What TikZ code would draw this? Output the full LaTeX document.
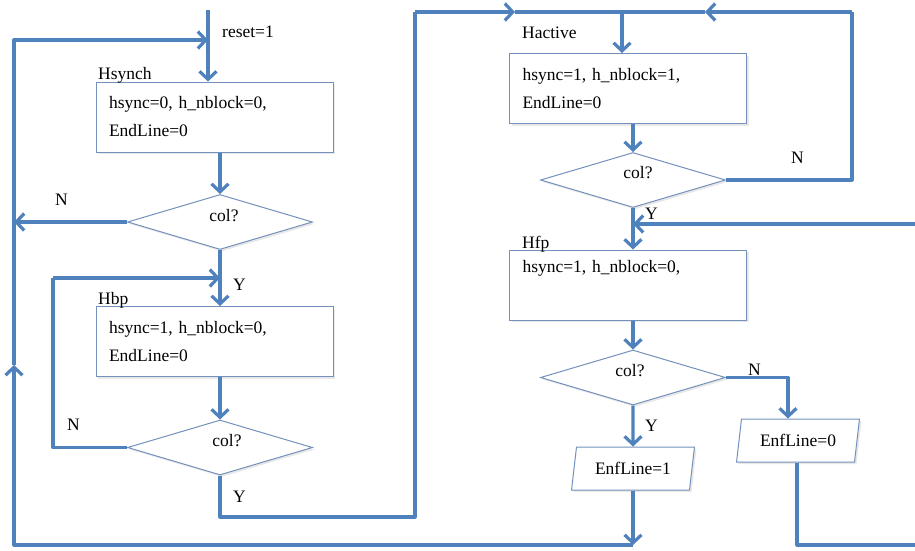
\documentclass[tikz,border=0pt]{standalone}
\usepackage{fontspec}
\setmainfont{Liberation Serif}
\usetikzlibrary{arrows.meta,shapes.geometric,shadows}

\definecolor{flow}{RGB}{79,129,189}
\definecolor{edge}{RGB}{115,145,188}

\tikzset{
  x=1pt, y=-1pt,
  txt/.style={inner sep=0pt, font=\fontsize{17.5}{28}\selectfont, text=black},
  conn/.style={draw=flow, line width=3.2pt, line join=round},
  arr/.style={conn, -{Straight Barb[length=8pt,width=17pt]}},
  shade/.style={drop shadow={opacity=0.18, shadow xshift=2pt, shadow yshift=-2pt}},
  statebox/.style={rectangle, draw=edge, line width=1pt, fill=white, shade,
    minimum width=237pt, minimum height=70pt, text width=211pt,
    inner xsep=13pt, inner ysep=0pt, align=left,
    font=\fontsize{17.5}{28}\selectfont, text=black},
  test/.style={diamond, draw=edge, line width=1pt, fill=white, shade,
    minimum width=185pt, minimum height=55pt, inner sep=1pt},
  outbox/.style={trapezium, trapezium left angle=78, trapezium right angle=102,
    trapezium stretches=true, draw=edge, line width=1pt, fill=white, shade,
    minimum width=124pt, minimum height=43pt, inner sep=2pt,
    font=\fontsize{17.5}{28}\selectfont, text=black}
}

\begin{document}
\begin{tikzpicture}
\useasboundingbox (0,0) rectangle (915,550);

% ---- states and tests ----
\node[statebox] (hsynch) at (214.5,117) {hsync=0, h\_nblock=0,\\EndLine=0};
\node[test] (d1) at (220,222) {};
\node[statebox] (hbp) at (214.5,341.5) {hsync=1, h\_nblock=0,\\EndLine=0};
\node[test] (d2) at (220,447.5) {};

\node[statebox] (hactive) at (628,88.5) {hsync=1, h\_nblock=1,\\EndLine=0};
\node[test] (d3) at (633,180) {};
\node[statebox] (hfp) at (628,285) {hsync=1, h\_nblock=0,\\\strut};
\node[test] (d4) at (633,377.5) {};

\node[outbox] (enf1) at (633,468.5) {EnfLine=1};
\node[outbox] (enf0) at (798,440.5) {EnfLine=0};

% ---- texts ----
\node[txt, anchor=base west] (treset) at (222,37) {reset=1};
\node[txt, anchor=base west] (thsynch) at (98,79) {Hsynch};
\node[txt, anchor=base west] (thbp) at (98,304) {Hbp};
\node[txt, anchor=base west] (thactive) at (522,38) {Hactive};
\node[txt, anchor=base west] (thfp) at (522,248) {Hfp};

\node[txt, anchor=base] (c1) at (224,221) {col?};
\node[txt, anchor=base] (c2) at (227,446) {col?};
\node[txt, anchor=base] (c3) at (638,178) {col?};
\node[txt, anchor=base] (c4) at (630,376) {col?};

\node[txt, anchor=base west] (n1) at (55,205) {N};
\node[txt, anchor=base west] (y1) at (233,290) {Y};
\node[txt, anchor=base west] (n2) at (67,430) {N};
\node[txt, anchor=base west] (y2) at (233,502) {Y};
\node[txt, anchor=base west] (n3) at (791,163) {N};
\node[txt, anchor=base west] (y3) at (645,219) {Y};
\node[txt, anchor=base west] (n4) at (748,375) {N};
\node[txt, anchor=base west] (y4) at (645,431) {Y};

% ---- junction points ----
\coordinate (start) at (208,10);
\coordinate (loopL) at (14,40);
\coordinate (loopU) at (14,365);
\coordinate (loopB) at (14,545);
\coordinate (bbp) at (53,278);
\coordinate (ycorner) at (415,517);
\coordinate (topL) at (415,12);
\coordinate (topR) at (852,12);
\coordinate (top1) at (515,12);
\coordinate (top2) at (705,12);
\coordinate (topIn) at (622,12);
\coordinate (rin) at (915,224);
\coordinate (rout) at (915,545);
\coordinate (nbend) at (788,377.5);
\coordinate (edown) at (797,545);

% ---- left column ----
\draw[arr] (start) -- (start |- hsynch.north);
\draw[arr] (hsynch.south -| d1.north) -- (d1.north);
\draw[arr] (d1.west) -- (d1.west -| loopL);
\draw[arr] (d1.south) -- (hbp.north -| d1.south);
\draw[arr] (hbp.south -| d2.north) -- (d2.north);
\draw[conn] (d2.west) -- (d2.west -| bbp) -- (bbp);
\draw[arr] (bbp) -- (bbp -| d1.south);
\draw[conn] (d2.south) -- (d2.south |- ycorner) -- (ycorner) -- (topL);
\draw[arr] (topL) -- (top1);
\draw[conn] (top1) -- (topIn);

% ---- return loop to reset ----
\draw[arr] (enf1.south) -- (enf1.south |- loopB);
\draw[arr] (enf1.south |- loopB) -- (loopB) -- (loopU);
\draw[arr] (loopU) -- (loopL) -- (loopL -| start);

% ---- right column ----
\draw[arr] (topIn) -- (topIn |- hactive.north);
\draw[arr] (hactive.south -| d3.north) -- (d3.north);
\draw[conn] (d3.east) -- (d3.east -| topR) -- (topR);
\draw[arr] (topR) -- (top2);
\draw[conn] (top2) -- (topIn);
\draw[arr] (d3.south) -- (hfp.north -| d3.south);
\draw[arr] (rin) -- (rin -| d3.south);
\draw[arr] (hfp.south -| d4.north) -- (d4.north);
\draw[arr] (d4.south) -- (enf1.north);
\draw[arr] (d4.east) -- (nbend) -- (nbend |- enf0.north);
\draw[conn] (enf0.south -| edown) -- (edown) -- (rout);
\end{tikzpicture}
\end{document}
